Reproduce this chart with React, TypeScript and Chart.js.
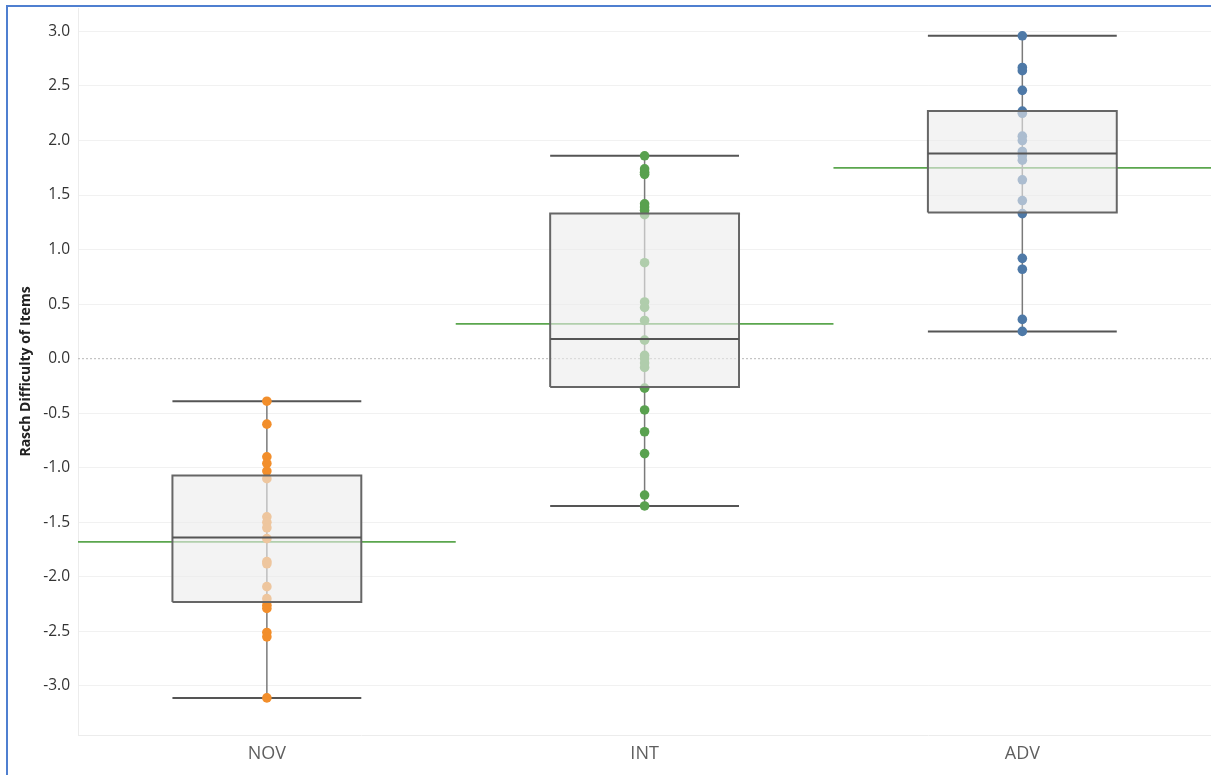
import React, { useEffect, useRef } from "react";
import { Chart, registerables } from "chart.js";

Chart.register(...registerables);

// ---- Data ----
const CATEGORIES = ["NOV", "INT", "ADV"];
const CATEGORY_CENTERS = [0.5, 1.5, 2.5];

const NOV_VALUES = [-0.39, -0.6, -0.9, -0.96, -1.03, -1.1, -1.45, -1.5, -1.55, -1.65, -1.86, -1.88, -2.09, -2.2, -2.26, -2.29, -2.51, -2.55, -3.11];
const INT_VALUES = [1.86, 1.74, 1.71, 1.69, 1.42, 1.39, 1.36, 1.32, 0.88, 0.52, 0.47, 0.35, 0.17, 0.03, 0.0, -0.04, -0.08, -0.27, -0.47, -0.67, -0.87, -1.25, -1.35];
const ADV_VALUES = [2.96, 2.67, 2.64, 2.46, 2.27, 2.25, 2.04, 2.0, 1.9, 1.86, 1.82, 1.64, 1.45, 1.33, 0.92, 0.82, 0.36, 0.25];

const WHISKER_MIN = [-3.11, -1.35, 0.25];
const Q1 = [-2.23, -0.26, 1.34];
const MEDIAN = [-1.64, 0.18, 1.88];
const Q3 = [-1.07, 1.33, 2.27];
const WHISKER_MAX = [-0.39, 1.86, 2.96];
const REFERENCE_MEAN = [-1.68, 0.32, 1.75];

const Y_TICKS = [-3, -2.5, -2, -1.5, -1, -0.5, 0, 0.5, 1, 1.5, 2, 2.5, 3];
const Y_TITLE = "Rasch Difficulty of Items";

const POINT_COLORS = ["#F28E2B", "#59A14F", "#4E79A7"];
const SERIES = [NOV_VALUES, INT_VALUES, ADV_VALUES];

const HALF_BOX = 0.25;

export default function App() {
  const canvasRef = useRef<HTMLCanvasElement | null>(null);

  useEffect(() => {
    if (!canvasRef.current) return;
    const datasets: any[] = [];

    // zero line (dotted)
    datasets.push({
      type: "line",
      data: [{ x: 0, y: 0 }, { x: 3, y: 0 }],
      borderColor: "#b8b8b8",
      borderWidth: 1,
      borderDash: [2, 2],
      pointRadius: 0,
      tension: 0,
      order: 20,
    });

    CATEGORIES.forEach((_, i) => {
      const c = CATEGORY_CENTERS[i];
      // reference (mean) line across the pane
      datasets.push({
        type: "line",
        data: [{ x: c - 0.5, y: REFERENCE_MEAN[i] }, { x: c + 0.5, y: REFERENCE_MEAN[i] }],
        borderColor: "#5BA64E",
        borderWidth: 1.8,
        pointRadius: 0,
        tension: 0,
        order: 15,
      });
      // whisker stem
      datasets.push({
        type: "line",
        data: [{ x: c, y: WHISKER_MIN[i] }, { x: c, y: WHISKER_MAX[i] }],
        borderColor: "#7a7a7a",
        borderWidth: 1.5,
        pointRadius: 0,
        tension: 0,
        order: 12,
      });
      // whisker caps
      datasets.push({
        type: "line",
        data: [
          { x: c - HALF_BOX, y: WHISKER_MIN[i] },
          { x: c + HALF_BOX, y: WHISKER_MIN[i] },
          { x: c, y: null },
          { x: c - HALF_BOX, y: WHISKER_MAX[i] },
          { x: c + HALF_BOX, y: WHISKER_MAX[i] },
        ],
        borderColor: "#555555",
        borderWidth: 2,
        pointRadius: 0,
        spanGaps: false,
        tension: 0,
        order: 11,
      });
      // points
      datasets.push({
        type: "scatter",
        data: SERIES[i].map((v) => ({ x: c, y: v })),
        backgroundColor: POINT_COLORS[i],
        borderColor: POINT_COLORS[i],
        borderWidth: 0,
        pointRadius: 4.8,
        order: 8,
      });
      // box
      datasets.push({
        type: "line",
        data: [
          { x: c - HALF_BOX, y: Q1[i] },
          { x: c + HALF_BOX, y: Q1[i] },
          { x: c + HALF_BOX, y: Q3[i] },
          { x: c - HALF_BOX, y: Q3[i] },
          { x: c - HALF_BOX, y: Q1[i] },
        ],
        borderColor: "#666666",
        borderWidth: 2,
        backgroundColor: "rgba(235,235,235,0.6)",
        fill: "shape",
        pointRadius: 0,
        tension: 0,
        order: 4,
      });
      // median
      datasets.push({
        type: "line",
        data: [{ x: c - HALF_BOX, y: MEDIAN[i] }, { x: c + HALF_BOX, y: MEDIAN[i] }],
        borderColor: "#555555",
        borderWidth: 2,
        pointRadius: 0,
        tension: 0,
        order: 2,
      });
    });

    const chart = new Chart(canvasRef.current, {
      type: "scatter",
      data: { datasets },
      options: {
        animation: false,
        responsive: false,
        maintainAspectRatio: false,
        layout: { padding: { left: 0, right: 0, top: 8, bottom: 0 } },
        plugins: { legend: { display: false }, tooltip: { enabled: false } },
        scales: {
          x: {
            type: "linear",
            min: 0,
            max: 3,
            afterBuildTicks: (scale: any) => {
              scale.ticks = CATEGORY_CENTERS.map((v) => ({ value: v }));
            },
            afterFit: (scale: any) => {
              scale.height = 40;
              scale.paddingLeft = 0;
              scale.paddingRight = 0;
            },
            grid: { display: false, drawTicks: false },
            border: { display: true, color: "#ececec", width: 1 },
            ticks: {
              autoSkip: false,
              maxRotation: 0,
              padding: 8,
              color: "#5f5f5f",
              font: { family: "'Open Sans', sans-serif", size: 18 },
              callback: (v: any) => {
                const idx = CATEGORY_CENTERS.indexOf(Number(v));
                return idx >= 0 ? CATEGORIES[idx] : "";
              },
            },
          },
          y: {
            type: "linear",
            min: -3.45,
            max: 3.215,
            afterBuildTicks: (scale: any) => {
              scale.ticks = Y_TICKS.map((v) => ({ value: v }));
            },
            afterFit: (scale: any) => {
              scale.width = 78;
              scale.paddingTop = 0;
              scale.paddingBottom = 0;
            },
            grid: {
              drawTicks: false,
              color: (ctx: any) => (ctx.tick && ctx.tick.value === 0 ? "rgba(0,0,0,0)" : "#f1f1f1"),
              lineWidth: 1,
            },
            border: { display: true, color: "#ececec", width: 1 },
            ticks: {
              padding: 8,
              color: "#333333",
              font: { family: "'Open Sans', sans-serif", size: 15.5 },
              callback: (v: any) => Number(v).toFixed(1),
            },
            title: {
              display: true,
              text: Y_TITLE,
              color: "#222222",
              font: { family: "'Open Sans', sans-serif", size: 14, weight: "bold" },
              padding: { top: 18, bottom: 0 },
            },
          },
        },
      },
    });
    return () => chart.destroy();
  }, []);

  return (
    <div
      style={{
        position: "fixed",
        left: 0,
        top: 0,
        width: 1211,
        height: 775,
        overflow: "hidden",
        background: "#ffffff",
      }}
    >
      <div
        style={{
          position: "absolute",
          left: 6,
          top: 5,
          width: 1300,
          height: 900,
          border: "2px solid #4F7FD0",
          boxSizing: "border-box",
        }}
      />
      <canvas
        ref={canvasRef}
        width={1216}
        height={775}
        style={{ position: "absolute", left: 0, top: 0, width: 1216, height: 775 }}
      />
    </div>
  );
}
